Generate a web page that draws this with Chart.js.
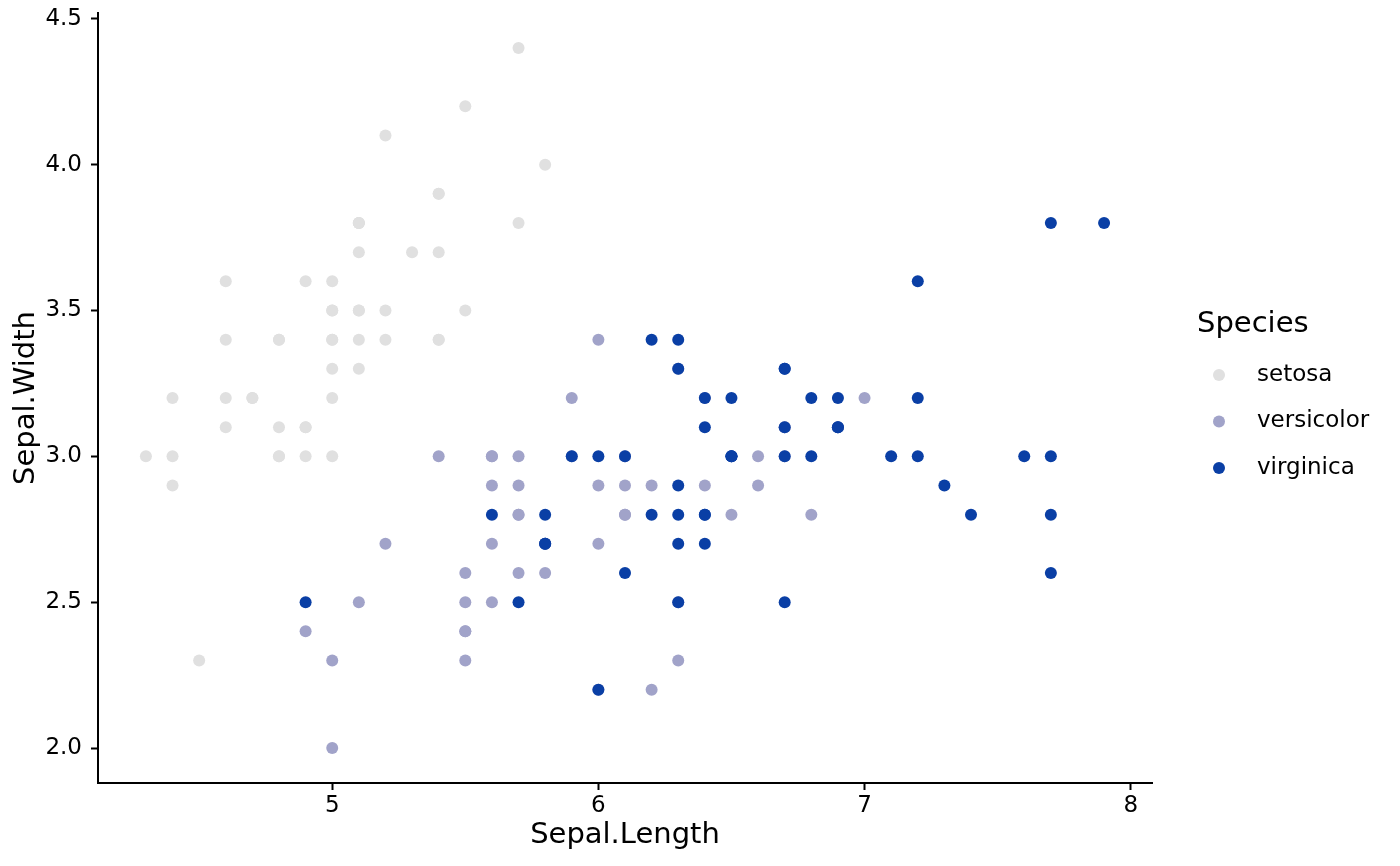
<!DOCTYPE html>
<html>
<head>
<meta charset="utf-8">
<script src="https://cdn.jsdelivr.net/npm/chart.js@4.4.1/dist/chart.umd.min.js"></script>
<style>
  html, body { margin: 0; padding: 0; background: #fff; }
  #wrap { width: 1400px; height: 866px; }
</style>
</head>
<body>
<div id="wrap"><canvas id="grafico" width="1400" height="866"></canvas></div>
<script>
// Dados (iris: Sepal.Length, Sepal.Width)
var especies = ['setosa', 'versicolor', 'virginica'];
var cores = ['#e0e0e0', '#a1a3c9', '#0a3fa5'];

var setosaX = [5.1, 4.9, 4.7, 4.6, 5.0, 5.4, 4.6, 5.0, 4.4, 4.9, 5.4, 4.8, 4.8, 4.3, 5.8, 5.7, 5.4, 5.1, 5.7, 5.1,
               5.4, 5.1, 4.6, 5.1, 4.8, 5.0, 5.0, 5.2, 5.2, 4.7, 4.8, 5.4, 5.2, 5.5, 4.9, 5.0, 5.5, 4.9, 4.4, 5.1,
               5.0, 4.5, 4.4, 5.0, 5.1, 4.8, 5.1, 4.6, 5.3, 5.0];
var setosaY = [3.5, 3.0, 3.2, 3.1, 3.6, 3.9, 3.4, 3.4, 2.9, 3.1, 3.7, 3.4, 3.0, 3.0, 4.0, 4.4, 3.9, 3.5, 3.8, 3.8,
               3.4, 3.7, 3.6, 3.3, 3.4, 3.0, 3.4, 3.5, 3.4, 3.2, 3.1, 3.4, 4.1, 4.2, 3.1, 3.2, 3.5, 3.6, 3.0, 3.4,
               3.5, 2.3, 3.2, 3.5, 3.8, 3.0, 3.8, 3.2, 3.7, 3.3];

var versicolorX = [7.0, 6.4, 6.9, 5.5, 6.5, 5.7, 6.3, 4.9, 6.6, 5.2, 5.0, 5.9, 6.0, 6.1, 5.6, 6.7, 5.6, 5.8, 6.2, 5.6,
                   5.9, 6.1, 6.3, 6.1, 6.4, 6.6, 6.8, 6.7, 6.0, 5.7, 5.5, 5.5, 5.8, 6.0, 5.4, 6.0, 6.7, 6.3, 5.6, 5.5,
                   5.5, 6.1, 5.8, 5.0, 5.6, 5.7, 5.7, 6.2, 5.1, 5.7];
var versicolorY = [3.2, 3.2, 3.1, 2.3, 2.8, 2.8, 3.3, 2.4, 2.9, 2.7, 2.0, 3.0, 2.2, 2.9, 2.9, 3.1, 3.0, 2.7, 2.2, 2.5,
                   3.2, 2.8, 2.5, 2.8, 2.9, 3.0, 2.8, 3.0, 2.9, 2.6, 2.4, 2.4, 2.7, 2.7, 3.0, 3.4, 3.1, 2.3, 3.0, 2.5,
                   2.6, 3.0, 2.6, 2.3, 2.7, 3.0, 2.9, 2.9, 2.5, 2.8];

var virginicaX = [6.3, 5.8, 7.1, 6.3, 6.5, 7.6, 4.9, 7.3, 6.7, 7.2, 6.5, 6.4, 6.8, 5.7, 5.8, 6.4, 6.5, 7.7, 7.7, 6.0,
                  6.9, 5.6, 7.7, 6.3, 6.7, 7.2, 6.2, 6.1, 6.4, 7.2, 7.4, 7.9, 6.4, 6.3, 6.1, 7.7, 6.3, 6.4, 6.0, 6.9,
                  6.7, 6.9, 5.8, 6.8, 6.7, 6.7, 6.3, 6.5, 6.2, 5.9];
var virginicaY = [3.3, 2.7, 3.0, 2.9, 3.0, 3.0, 2.5, 2.9, 2.5, 3.6, 3.2, 2.7, 3.0, 2.5, 2.8, 3.2, 3.0, 3.8, 2.6, 2.2,
                  3.2, 2.8, 2.8, 2.7, 3.3, 3.2, 2.8, 3.0, 2.8, 3.0, 2.8, 3.8, 2.8, 2.8, 2.6, 3.0, 3.4, 3.1, 3.0, 3.1,
                  3.1, 3.1, 2.7, 3.2, 3.3, 3.0, 2.5, 3.0, 3.4, 3.0];

var ticksX = [5, 6, 7, 8];
var ticksY = [2.0, 2.5, 3.0, 3.5, 4.0, 4.5];

//Junta x e y em pontos
function pontos(xs, ys) {
    return xs.map(function (v, i) { return { x: v, y: ys[i] }; });
}

var series = [pontos(setosaX, setosaY), pontos(versicolorX, versicolorY), pontos(virginicaX, virginicaY)];

var fonte = 'DejaVu Sans';

//Legenda desenhada a mao (estilo ggplot)
var legendaPlugin = {
    id: 'legendaSpecies',
    afterDraw: function (chart) {
        var c = chart.ctx;
        var area = chart.chartArea;
        var meio = (area.top + area.bottom) / 2;
        var x0 = area.right + 45;
        c.save();
        c.fillStyle = '#000';
        c.textBaseline = 'middle';
        c.textAlign = 'left';
        c.font = '29px "' + fonte + '"';
        c.fillText('Species', x0, meio - 74);
        c.font = '23px "' + fonte + '"';
        chart.data.datasets.forEach(function (ds, i) {
            var y = meio - 23 + i * 46.5;
            c.beginPath();
            c.arc(x0 + 22, y, 6, 0, Math.PI * 2);
            c.fillStyle = ds.backgroundColor;
            c.fill();
            c.fillStyle = '#000';
            c.fillText(ds.label, x0 + 60, y);
        });
        c.restore();
    }
};

var ctx = document.getElementById('grafico').getContext('2d');

// order: virginica desenhada por cima, como no ggplot
var datasets = especies.map(function (nome, i) {
    return {
        label: nome,
        data: series[i],
        backgroundColor: cores[i],
        borderColor: cores[i],
        borderWidth: 0,
        pointRadius: 6,
        pointHoverRadius: 6,
        order: especies.length - i
    };
});

var myChart = new Chart(ctx, {
    type: 'scatter',
    data: { datasets: datasets },
    plugins: [legendaPlugin],
    options: {
        responsive: false,
        animation: false,
        devicePixelRatio: 1,
        layout: { padding: { top: 0, right: 248, left: 0, bottom: 0 } },
        plugins: {
            legend: { display: false },
            tooltip: { enabled: false }
        },
        scales: {
            x: {
                type: 'linear',
                min: 4.12,
                max: 8.08,
                afterBuildTicks: function (scale) {
                    scale.ticks = ticksX.map(function (v) { return { value: v }; });
                },
                afterFit: function (scale) { scale.height = 83; },
                grid: { display: true, drawOnChartArea: false, drawTicks: true, tickLength: 7, tickWidth: 2, tickColor: '#000' },
                border: { display: true, color: '#000', width: 2 },
                ticks: {
                    color: '#000',
                    padding: 2,
                    maxRotation: 0,
                    font: { family: fonte, size: 23 },
                    callback: function (v) { return String(v); }
                },
                title: {
                    display: true,
                    text: 'Sepal.Length',
                    color: '#000',
                    font: { family: fonte, size: 29 },
                    padding: { top: 0, bottom: 13 }
                }
            },
            y: {
                type: 'linear',
                min: 1.88,
                max: 4.52,
                afterBuildTicks: function (scale) {
                    scale.ticks = ticksY.map(function (v) { return { value: v }; });
                },
                afterFit: function (scale) {
                    scale.width = 98;
                    scale.paddingTop = 13;
                    scale.paddingBottom = 0;
                },
                grid: { display: true, drawOnChartArea: false, drawTicks: true, tickLength: 7, tickWidth: 2, tickColor: '#000' },
                border: { display: true, color: '#000', width: 2 },
                ticks: {
                    color: '#000',
                    padding: 9,
                    font: { family: fonte, size: 23 },
                    callback: function (v) { return v.toFixed(1); }
                },
                title: {
                    display: true,
                    text: 'Sepal.Width',
                    color: '#000',
                    font: { family: fonte, size: 29 },
                    padding: { top: 9, bottom: 0 }
                }
            }
        }
    }
});
</script>
</body>
</html>
